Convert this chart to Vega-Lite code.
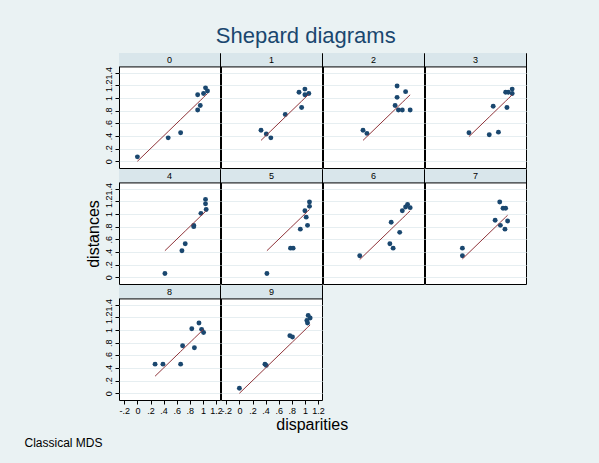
{
  "$schema": "https://vega.github.io/schema/vega-lite/v6.json",
  "background": "#eaf2f3",
  "padding": {"left": 24, "top": 24, "right": 72, "bottom": 14},
  "datasets": {
    "shepard": [
      {"panel": 0, "disparity": 0.00, "distance": 0.07},
      {"panel": 0, "disparity": 0.47, "distance": 0.37},
      {"panel": 0, "disparity": 0.66, "distance": 0.45},
      {"panel": 0, "disparity": 0.92, "distance": 1.05},
      {"panel": 0, "disparity": 0.96, "distance": 0.88},
      {"panel": 0, "disparity": 0.92, "distance": 0.81},
      {"panel": 0, "disparity": 1.01, "distance": 1.07},
      {"panel": 0, "disparity": 1.04, "distance": 1.16},
      {"panel": 0, "disparity": 1.07, "distance": 1.11},
      {"panel": 1, "disparity": 0.33, "distance": 0.49},
      {"panel": 1, "disparity": 0.41, "distance": 0.43},
      {"panel": 1, "disparity": 0.48, "distance": 0.37},
      {"panel": 1, "disparity": 0.70, "distance": 0.74},
      {"panel": 1, "disparity": 0.91, "distance": 1.09},
      {"panel": 1, "disparity": 0.95, "distance": 0.85},
      {"panel": 1, "disparity": 1.00, "distance": 1.14},
      {"panel": 1, "disparity": 1.00, "distance": 1.05},
      {"panel": 1, "disparity": 1.06, "distance": 1.07},
      {"panel": 2, "disparity": 0.33, "distance": 0.49},
      {"panel": 2, "disparity": 0.39, "distance": 0.44},
      {"panel": 2, "disparity": 0.85, "distance": 1.19},
      {"panel": 2, "disparity": 0.98, "distance": 1.10},
      {"panel": 2, "disparity": 0.85, "distance": 1.01},
      {"panel": 2, "disparity": 0.82, "distance": 0.88},
      {"panel": 2, "disparity": 0.87, "distance": 0.81},
      {"panel": 2, "disparity": 0.93, "distance": 0.81},
      {"panel": 2, "disparity": 1.05, "distance": 0.81},
      {"panel": 3, "disparity": 0.39, "distance": 0.45},
      {"panel": 3, "disparity": 0.70, "distance": 0.42},
      {"panel": 3, "disparity": 0.84, "distance": 0.46},
      {"panel": 3, "disparity": 0.76, "distance": 0.87},
      {"panel": 3, "disparity": 0.97, "distance": 0.85},
      {"panel": 3, "disparity": 0.95, "distance": 1.09},
      {"panel": 3, "disparity": 0.99, "distance": 1.09},
      {"panel": 3, "disparity": 1.05, "distance": 1.14},
      {"panel": 3, "disparity": 1.05, "distance": 1.07},
      {"panel": 4, "disparity": 0.42, "distance": 0.06},
      {"panel": 4, "disparity": 0.68, "distance": 0.42},
      {"panel": 4, "disparity": 0.73, "distance": 0.53},
      {"panel": 4, "disparity": 0.86, "distance": 0.82},
      {"panel": 4, "disparity": 0.86, "distance": 0.80},
      {"panel": 4, "disparity": 0.97, "distance": 1.01},
      {"panel": 4, "disparity": 1.04, "distance": 1.23},
      {"panel": 4, "disparity": 1.04, "distance": 1.16},
      {"panel": 4, "disparity": 1.05, "distance": 1.07},
      {"panel": 5, "disparity": 0.42, "distance": 0.06},
      {"panel": 5, "disparity": 0.78, "distance": 0.46},
      {"panel": 5, "disparity": 0.82, "distance": 0.46},
      {"panel": 5, "disparity": 0.93, "distance": 0.76},
      {"panel": 5, "disparity": 1.04, "distance": 0.82},
      {"panel": 5, "disparity": 1.02, "distance": 0.95},
      {"panel": 5, "disparity": 1.00, "distance": 1.05},
      {"panel": 5, "disparity": 1.07, "distance": 1.19},
      {"panel": 5, "disparity": 1.07, "distance": 1.12},
      {"panel": 6, "disparity": 0.28, "distance": 0.34},
      {"panel": 6, "disparity": 0.74, "distance": 0.53},
      {"panel": 6, "disparity": 0.79, "distance": 0.46},
      {"panel": 6, "disparity": 0.89, "distance": 0.71},
      {"panel": 6, "disparity": 0.76, "distance": 0.87},
      {"panel": 6, "disparity": 0.93, "distance": 1.05},
      {"panel": 6, "disparity": 0.98, "distance": 1.11},
      {"panel": 6, "disparity": 1.01, "distance": 1.15},
      {"panel": 6, "disparity": 1.05, "distance": 1.10},
      {"panel": 7, "disparity": 0.29, "distance": 0.46},
      {"panel": 7, "disparity": 0.29, "distance": 0.34},
      {"panel": 7, "disparity": 0.86, "distance": 1.19},
      {"panel": 7, "disparity": 0.91, "distance": 1.09},
      {"panel": 7, "disparity": 0.95, "distance": 1.09},
      {"panel": 7, "disparity": 0.79, "distance": 0.90},
      {"panel": 7, "disparity": 0.87, "distance": 0.82},
      {"panel": 7, "disparity": 0.98, "distance": 0.89},
      {"panel": 7, "disparity": 0.94, "distance": 0.76},
      {"panel": 8, "disparity": 0.27, "distance": 0.46},
      {"panel": 8, "disparity": 0.39, "distance": 0.46},
      {"panel": 8, "disparity": 0.66, "distance": 0.46},
      {"panel": 8, "disparity": 0.69, "distance": 0.75},
      {"panel": 8, "disparity": 0.87, "distance": 0.72},
      {"panel": 8, "disparity": 0.83, "distance": 1.02},
      {"panel": 8, "disparity": 0.94, "distance": 1.11},
      {"panel": 8, "disparity": 0.98, "distance": 1.01},
      {"panel": 8, "disparity": 1.01, "distance": 0.96},
      {"panel": 9, "disparity": 0.00, "distance": 0.08},
      {"panel": 9, "disparity": 0.39, "distance": 0.46},
      {"panel": 9, "disparity": 0.41, "distance": 0.44},
      {"panel": 9, "disparity": 0.77, "distance": 0.91},
      {"panel": 9, "disparity": 0.81, "distance": 0.89},
      {"panel": 9, "disparity": 1.03, "distance": 1.15},
      {"panel": 9, "disparity": 1.04, "distance": 1.11},
      {"panel": 9, "disparity": 1.05, "distance": 1.23},
      {"panel": 9, "disparity": 1.08, "distance": 1.19}
    ]
  },
  "title": {"text": "Shepard diagrams", "fontSize": 22, "font": "Liberation Sans", "fontWeight": "normal", "color": "#1a476f", "anchor": "middle", "offset": 5, "dx": 30},
  "config": {
    "font": "Liberation Sans",
    "view": {"stroke": "#000000", "strokeWidth": 1, "fill": "#ffffff"},
    "axis": {"labelFont": "Liberation Sans", "labelFontSize": 9, "labelColor": "#000000", "tickColor": "#000000", "tickSize": 4, "tickCount": 20, "domain": false, "labelPadding": 2, "labelOverlap": false, "labelFlush": false, "titleColor": "#000000"},
    "title": {"font": "Liberation Sans", "fontWeight": "normal", "color": "#000000"},
    "concat": {"spacing": 1}
  },
  "vconcat": [
    {
      "title": {"text": "Classical MDS", "orient": "bottom", "anchor": "start", "fontSize": 12, "offset": 5, "dx": -61},
      "vconcat": [
        {
          "title": {"text": "disparities", "orient": "bottom", "anchor": "middle", "fontSize": 16, "offset": 1, "dx": 6},
          "vconcat": [
            {
              "title": {"text": "distances", "orient": "left", "anchor": "middle", "fontSize": 16, "offset": 2},
              "columns": 4,
              "spacing": 1,
              "bounds": "flush",
              "concat": [
                {
                  "data": {"name": "shepard"}, "transform": [{"filter": "datum.panel == 0"}], "width": 101, "height": 115,
                  "layer": [
                    {"transform": [{"aggregate": [{"op": "count", "as": "n"}], "groupby": ["panel"]}], "layer": [
                      {"mark": {"type": "rect", "fill": "#d9e6eb"}, "encoding": {"y": {"datum": 1.49, "type": "quantitative", "axis": {"title": null}}, "y2": {"datum": 1.71}}},
                      {"mark": {"type": "rule", "color": "#000000", "strokeWidth": 1}, "encoding": {"y": {"datum": 1.49, "type": "quantitative", "axis": {"title": null}}}},
                      {"mark": {"type": "text", "fontSize": 9, "color": "#000000"}, "encoding": {"text": {"field": "panel", "type": "ordinal"}, "y": {"datum": 1.6, "type": "quantitative", "axis": {"title": null}}}}
                    ]},
                    {"mark": {"type": "circle", "size": 24, "color": "#1a476f", "opacity": 1}, "encoding": {
                      "x": {"field": "disparity", "type": "quantitative", "scale": {"domain": [-0.281, 1.261], "nice": false, "zero": false}, "axis": null},
                      "y": {"field": "distance", "type": "quantitative", "scale": {"domain": [-0.106, 1.71], "nice": false, "zero": false}, "axis": {"title": null, "values": [0, 0.2, 0.4, 0.6, 0.8, 1, 1.2, 1.4], "tickCount": 20, "labelExpr": "datum.value == 0 ? '0' : datum.value == 1 ? '1' : replace(format(datum.value, '.1f'), '0.', '.')", "labelAngle": 270, "labelAlign": "center", "labelBaseline": "bottom", "grid": true, "gridColor": "#e6eef1", "gridWidth": 1}}}},
                    {"mark": {"type": "line", "color": "#90353b", "strokeWidth": 1}, "encoding": {
                      "x": {"field": "disparity", "type": "quantitative", "scale": {"domain": [-0.281, 1.261], "nice": false, "zero": false}, "axis": null},
                      "y": {"field": "disparity", "type": "quantitative", "scale": {"domain": [-0.106, 1.71], "nice": false, "zero": false}, "axis": {"title": null}}}}
                  ]
                },
                {
                  "data": {"name": "shepard"}, "transform": [{"filter": "datum.panel == 1"}], "width": 101, "height": 115,
                  "layer": [
                    {"transform": [{"aggregate": [{"op": "count", "as": "n"}], "groupby": ["panel"]}], "layer": [
                      {"mark": {"type": "rect", "fill": "#d9e6eb"}, "encoding": {"y": {"datum": 1.49, "type": "quantitative", "axis": {"title": null}}, "y2": {"datum": 1.71}}},
                      {"mark": {"type": "rule", "color": "#000000", "strokeWidth": 1}, "encoding": {"y": {"datum": 1.49, "type": "quantitative", "axis": {"title": null}}}},
                      {"mark": {"type": "text", "fontSize": 9, "color": "#000000"}, "encoding": {"text": {"field": "panel", "type": "ordinal"}, "y": {"datum": 1.6, "type": "quantitative", "axis": {"title": null}}}}
                    ]},
                    {"mark": {"type": "circle", "size": 24, "color": "#1a476f", "opacity": 1}, "encoding": {
                      "x": {"field": "disparity", "type": "quantitative", "scale": {"domain": [-0.281, 1.261], "nice": false, "zero": false}, "axis": null},
                      "y": {"field": "distance", "type": "quantitative", "scale": {"domain": [-0.106, 1.71], "nice": false, "zero": false}, "axis": {"title": null, "values": [0, 0.2, 0.4, 0.6, 0.8, 1, 1.2, 1.4], "tickCount": 20, "labels": false, "ticks": false, "grid": true, "gridColor": "#e6eef1", "gridWidth": 1}}}},
                    {"mark": {"type": "line", "color": "#90353b", "strokeWidth": 1}, "encoding": {
                      "x": {"field": "disparity", "type": "quantitative", "scale": {"domain": [-0.281, 1.261], "nice": false, "zero": false}, "axis": null},
                      "y": {"field": "disparity", "type": "quantitative", "scale": {"domain": [-0.106, 1.71], "nice": false, "zero": false}, "axis": {"title": null}}}}
                  ]
                },
                {
                  "data": {"name": "shepard"}, "transform": [{"filter": "datum.panel == 2"}], "width": 101, "height": 115,
                  "layer": [
                    {"transform": [{"aggregate": [{"op": "count", "as": "n"}], "groupby": ["panel"]}], "layer": [
                      {"mark": {"type": "rect", "fill": "#d9e6eb"}, "encoding": {"y": {"datum": 1.49, "type": "quantitative", "axis": {"title": null}}, "y2": {"datum": 1.71}}},
                      {"mark": {"type": "rule", "color": "#000000", "strokeWidth": 1}, "encoding": {"y": {"datum": 1.49, "type": "quantitative", "axis": {"title": null}}}},
                      {"mark": {"type": "text", "fontSize": 9, "color": "#000000"}, "encoding": {"text": {"field": "panel", "type": "ordinal"}, "y": {"datum": 1.6, "type": "quantitative", "axis": {"title": null}}}}
                    ]},
                    {"mark": {"type": "circle", "size": 24, "color": "#1a476f", "opacity": 1}, "encoding": {
                      "x": {"field": "disparity", "type": "quantitative", "scale": {"domain": [-0.281, 1.261], "nice": false, "zero": false}, "axis": null},
                      "y": {"field": "distance", "type": "quantitative", "scale": {"domain": [-0.106, 1.71], "nice": false, "zero": false}, "axis": {"title": null, "values": [0, 0.2, 0.4, 0.6, 0.8, 1, 1.2, 1.4], "tickCount": 20, "labels": false, "ticks": false, "grid": true, "gridColor": "#e6eef1", "gridWidth": 1}}}},
                    {"mark": {"type": "line", "color": "#90353b", "strokeWidth": 1}, "encoding": {
                      "x": {"field": "disparity", "type": "quantitative", "scale": {"domain": [-0.281, 1.261], "nice": false, "zero": false}, "axis": null},
                      "y": {"field": "disparity", "type": "quantitative", "scale": {"domain": [-0.106, 1.71], "nice": false, "zero": false}, "axis": {"title": null}}}}
                  ]
                },
                {
                  "data": {"name": "shepard"}, "transform": [{"filter": "datum.panel == 3"}], "width": 101, "height": 115,
                  "layer": [
                    {"transform": [{"aggregate": [{"op": "count", "as": "n"}], "groupby": ["panel"]}], "layer": [
                      {"mark": {"type": "rect", "fill": "#d9e6eb"}, "encoding": {"y": {"datum": 1.49, "type": "quantitative", "axis": {"title": null}}, "y2": {"datum": 1.71}}},
                      {"mark": {"type": "rule", "color": "#000000", "strokeWidth": 1}, "encoding": {"y": {"datum": 1.49, "type": "quantitative", "axis": {"title": null}}}},
                      {"mark": {"type": "text", "fontSize": 9, "color": "#000000"}, "encoding": {"text": {"field": "panel", "type": "ordinal"}, "y": {"datum": 1.6, "type": "quantitative", "axis": {"title": null}}}}
                    ]},
                    {"mark": {"type": "circle", "size": 24, "color": "#1a476f", "opacity": 1}, "encoding": {
                      "x": {"field": "disparity", "type": "quantitative", "scale": {"domain": [-0.281, 1.261], "nice": false, "zero": false}, "axis": null},
                      "y": {"field": "distance", "type": "quantitative", "scale": {"domain": [-0.106, 1.71], "nice": false, "zero": false}, "axis": {"title": null, "values": [0, 0.2, 0.4, 0.6, 0.8, 1, 1.2, 1.4], "tickCount": 20, "labels": false, "ticks": false, "grid": true, "gridColor": "#e6eef1", "gridWidth": 1}}}},
                    {"mark": {"type": "line", "color": "#90353b", "strokeWidth": 1}, "encoding": {
                      "x": {"field": "disparity", "type": "quantitative", "scale": {"domain": [-0.281, 1.261], "nice": false, "zero": false}, "axis": null},
                      "y": {"field": "disparity", "type": "quantitative", "scale": {"domain": [-0.106, 1.71], "nice": false, "zero": false}, "axis": {"title": null}}}}
                  ]
                },
                {
                  "data": {"name": "shepard"}, "transform": [{"filter": "datum.panel == 4"}], "width": 101, "height": 115,
                  "layer": [
                    {"transform": [{"aggregate": [{"op": "count", "as": "n"}], "groupby": ["panel"]}], "layer": [
                      {"mark": {"type": "rect", "fill": "#d9e6eb"}, "encoding": {"y": {"datum": 1.49, "type": "quantitative", "axis": {"title": null}}, "y2": {"datum": 1.71}}},
                      {"mark": {"type": "rule", "color": "#000000", "strokeWidth": 1}, "encoding": {"y": {"datum": 1.49, "type": "quantitative", "axis": {"title": null}}}},
                      {"mark": {"type": "text", "fontSize": 9, "color": "#000000"}, "encoding": {"text": {"field": "panel", "type": "ordinal"}, "y": {"datum": 1.6, "type": "quantitative", "axis": {"title": null}}}}
                    ]},
                    {"mark": {"type": "circle", "size": 24, "color": "#1a476f", "opacity": 1}, "encoding": {
                      "x": {"field": "disparity", "type": "quantitative", "scale": {"domain": [-0.281, 1.261], "nice": false, "zero": false}, "axis": null},
                      "y": {"field": "distance", "type": "quantitative", "scale": {"domain": [-0.106, 1.71], "nice": false, "zero": false}, "axis": {"title": null, "values": [0, 0.2, 0.4, 0.6, 0.8, 1, 1.2, 1.4], "tickCount": 20, "labelExpr": "datum.value == 0 ? '0' : datum.value == 1 ? '1' : replace(format(datum.value, '.1f'), '0.', '.')", "labelAngle": 270, "labelAlign": "center", "labelBaseline": "bottom", "grid": true, "gridColor": "#e6eef1", "gridWidth": 1}}}},
                    {"mark": {"type": "line", "color": "#90353b", "strokeWidth": 1}, "encoding": {
                      "x": {"field": "disparity", "type": "quantitative", "scale": {"domain": [-0.281, 1.261], "nice": false, "zero": false}, "axis": null},
                      "y": {"field": "disparity", "type": "quantitative", "scale": {"domain": [-0.106, 1.71], "nice": false, "zero": false}, "axis": {"title": null}}}}
                  ]
                },
                {
                  "data": {"name": "shepard"}, "transform": [{"filter": "datum.panel == 5"}], "width": 101, "height": 115,
                  "layer": [
                    {"transform": [{"aggregate": [{"op": "count", "as": "n"}], "groupby": ["panel"]}], "layer": [
                      {"mark": {"type": "rect", "fill": "#d9e6eb"}, "encoding": {"y": {"datum": 1.49, "type": "quantitative", "axis": {"title": null}}, "y2": {"datum": 1.71}}},
                      {"mark": {"type": "rule", "color": "#000000", "strokeWidth": 1}, "encoding": {"y": {"datum": 1.49, "type": "quantitative", "axis": {"title": null}}}},
                      {"mark": {"type": "text", "fontSize": 9, "color": "#000000"}, "encoding": {"text": {"field": "panel", "type": "ordinal"}, "y": {"datum": 1.6, "type": "quantitative", "axis": {"title": null}}}}
                    ]},
                    {"mark": {"type": "circle", "size": 24, "color": "#1a476f", "opacity": 1}, "encoding": {
                      "x": {"field": "disparity", "type": "quantitative", "scale": {"domain": [-0.281, 1.261], "nice": false, "zero": false}, "axis": null},
                      "y": {"field": "distance", "type": "quantitative", "scale": {"domain": [-0.106, 1.71], "nice": false, "zero": false}, "axis": {"title": null, "values": [0, 0.2, 0.4, 0.6, 0.8, 1, 1.2, 1.4], "tickCount": 20, "labels": false, "ticks": false, "grid": true, "gridColor": "#e6eef1", "gridWidth": 1}}}},
                    {"mark": {"type": "line", "color": "#90353b", "strokeWidth": 1}, "encoding": {
                      "x": {"field": "disparity", "type": "quantitative", "scale": {"domain": [-0.281, 1.261], "nice": false, "zero": false}, "axis": null},
                      "y": {"field": "disparity", "type": "quantitative", "scale": {"domain": [-0.106, 1.71], "nice": false, "zero": false}, "axis": {"title": null}}}}
                  ]
                },
                {
                  "data": {"name": "shepard"}, "transform": [{"filter": "datum.panel == 6"}], "width": 101, "height": 115,
                  "layer": [
                    {"transform": [{"aggregate": [{"op": "count", "as": "n"}], "groupby": ["panel"]}], "layer": [
                      {"mark": {"type": "rect", "fill": "#d9e6eb"}, "encoding": {"y": {"datum": 1.49, "type": "quantitative", "axis": {"title": null}}, "y2": {"datum": 1.71}}},
                      {"mark": {"type": "rule", "color": "#000000", "strokeWidth": 1}, "encoding": {"y": {"datum": 1.49, "type": "quantitative", "axis": {"title": null}}}},
                      {"mark": {"type": "text", "fontSize": 9, "color": "#000000"}, "encoding": {"text": {"field": "panel", "type": "ordinal"}, "y": {"datum": 1.6, "type": "quantitative", "axis": {"title": null}}}}
                    ]},
                    {"mark": {"type": "circle", "size": 24, "color": "#1a476f", "opacity": 1}, "encoding": {
                      "x": {"field": "disparity", "type": "quantitative", "scale": {"domain": [-0.281, 1.261], "nice": false, "zero": false}, "axis": null},
                      "y": {"field": "distance", "type": "quantitative", "scale": {"domain": [-0.106, 1.71], "nice": false, "zero": false}, "axis": {"title": null, "values": [0, 0.2, 0.4, 0.6, 0.8, 1, 1.2, 1.4], "tickCount": 20, "labels": false, "ticks": false, "grid": true, "gridColor": "#e6eef1", "gridWidth": 1}}}},
                    {"mark": {"type": "line", "color": "#90353b", "strokeWidth": 1}, "encoding": {
                      "x": {"field": "disparity", "type": "quantitative", "scale": {"domain": [-0.281, 1.261], "nice": false, "zero": false}, "axis": null},
                      "y": {"field": "disparity", "type": "quantitative", "scale": {"domain": [-0.106, 1.71], "nice": false, "zero": false}, "axis": {"title": null}}}}
                  ]
                },
                {
                  "data": {"name": "shepard"}, "transform": [{"filter": "datum.panel == 7"}], "width": 101, "height": 115,
                  "layer": [
                    {"transform": [{"aggregate": [{"op": "count", "as": "n"}], "groupby": ["panel"]}], "layer": [
                      {"mark": {"type": "rect", "fill": "#d9e6eb"}, "encoding": {"y": {"datum": 1.49, "type": "quantitative", "axis": {"title": null}}, "y2": {"datum": 1.71}}},
                      {"mark": {"type": "rule", "color": "#000000", "strokeWidth": 1}, "encoding": {"y": {"datum": 1.49, "type": "quantitative", "axis": {"title": null}}}},
                      {"mark": {"type": "text", "fontSize": 9, "color": "#000000"}, "encoding": {"text": {"field": "panel", "type": "ordinal"}, "y": {"datum": 1.6, "type": "quantitative", "axis": {"title": null}}}}
                    ]},
                    {"mark": {"type": "circle", "size": 24, "color": "#1a476f", "opacity": 1}, "encoding": {
                      "x": {"field": "disparity", "type": "quantitative", "scale": {"domain": [-0.281, 1.261], "nice": false, "zero": false}, "axis": null},
                      "y": {"field": "distance", "type": "quantitative", "scale": {"domain": [-0.106, 1.71], "nice": false, "zero": false}, "axis": {"title": null, "values": [0, 0.2, 0.4, 0.6, 0.8, 1, 1.2, 1.4], "tickCount": 20, "labels": false, "ticks": false, "grid": true, "gridColor": "#e6eef1", "gridWidth": 1}}}},
                    {"mark": {"type": "line", "color": "#90353b", "strokeWidth": 1}, "encoding": {
                      "x": {"field": "disparity", "type": "quantitative", "scale": {"domain": [-0.281, 1.261], "nice": false, "zero": false}, "axis": null},
                      "y": {"field": "disparity", "type": "quantitative", "scale": {"domain": [-0.106, 1.71], "nice": false, "zero": false}, "axis": {"title": null}}}}
                  ]
                },
                {
                  "data": {"name": "shepard"}, "transform": [{"filter": "datum.panel == 8"}], "width": 101, "height": 115,
                  "layer": [
                    {"transform": [{"aggregate": [{"op": "count", "as": "n"}], "groupby": ["panel"]}], "layer": [
                      {"mark": {"type": "rect", "fill": "#d9e6eb"}, "encoding": {"y": {"datum": 1.49, "type": "quantitative", "axis": {"title": null}}, "y2": {"datum": 1.71}}},
                      {"mark": {"type": "rule", "color": "#000000", "strokeWidth": 1}, "encoding": {"y": {"datum": 1.49, "type": "quantitative", "axis": {"title": null}}}},
                      {"mark": {"type": "text", "fontSize": 9, "color": "#000000"}, "encoding": {"text": {"field": "panel", "type": "ordinal"}, "y": {"datum": 1.6, "type": "quantitative", "axis": {"title": null}}}}
                    ]},
                    {"mark": {"type": "circle", "size": 24, "color": "#1a476f", "opacity": 1}, "encoding": {
                      "x": {"field": "disparity", "type": "quantitative", "scale": {"domain": [-0.281, 1.261], "nice": false, "zero": false}, "axis": {"title": null, "values": [-0.2, 0, 0.2, 0.4, 0.6, 0.8, 1, 1.2], "tickCount": 20, "labelExpr": "datum.value < 0 ? '-' + replace(format(-datum.value, '.1f'), '0.', '.') : datum.value == 0 ? '0' : datum.value == 1 ? '1' : replace(format(datum.value, '.1f'), '0.', '.')", "labelAngle": 0, "grid": false}},
                      "y": {"field": "distance", "type": "quantitative", "scale": {"domain": [-0.106, 1.71], "nice": false, "zero": false}, "axis": {"title": null, "values": [0, 0.2, 0.4, 0.6, 0.8, 1, 1.2, 1.4], "tickCount": 20, "labelExpr": "datum.value == 0 ? '0' : datum.value == 1 ? '1' : replace(format(datum.value, '.1f'), '0.', '.')", "labelAngle": 270, "labelAlign": "center", "labelBaseline": "bottom", "grid": true, "gridColor": "#e6eef1", "gridWidth": 1}}}},
                    {"mark": {"type": "line", "color": "#90353b", "strokeWidth": 1}, "encoding": {
                      "x": {"field": "disparity", "type": "quantitative", "scale": {"domain": [-0.281, 1.261], "nice": false, "zero": false}, "axis": {"title": null}},
                      "y": {"field": "disparity", "type": "quantitative", "scale": {"domain": [-0.106, 1.71], "nice": false, "zero": false}, "axis": {"title": null}}}}
                  ]
                },
                {
                  "data": {"name": "shepard"}, "transform": [{"filter": "datum.panel == 9"}], "width": 101, "height": 115,
                  "layer": [
                    {"transform": [{"aggregate": [{"op": "count", "as": "n"}], "groupby": ["panel"]}], "layer": [
                      {"mark": {"type": "rect", "fill": "#d9e6eb"}, "encoding": {"y": {"datum": 1.49, "type": "quantitative", "axis": {"title": null}}, "y2": {"datum": 1.71}}},
                      {"mark": {"type": "rule", "color": "#000000", "strokeWidth": 1}, "encoding": {"y": {"datum": 1.49, "type": "quantitative", "axis": {"title": null}}}},
                      {"mark": {"type": "text", "fontSize": 9, "color": "#000000"}, "encoding": {"text": {"field": "panel", "type": "ordinal"}, "y": {"datum": 1.6, "type": "quantitative", "axis": {"title": null}}}}
                    ]},
                    {"mark": {"type": "circle", "size": 24, "color": "#1a476f", "opacity": 1}, "encoding": {
                      "x": {"field": "disparity", "type": "quantitative", "scale": {"domain": [-0.281, 1.261], "nice": false, "zero": false}, "axis": {"title": null, "values": [-0.2, 0, 0.2, 0.4, 0.6, 0.8, 1, 1.2], "tickCount": 20, "labelExpr": "datum.value < 0 ? '-' + replace(format(-datum.value, '.1f'), '0.', '.') : datum.value == 0 ? '0' : datum.value == 1 ? '1' : replace(format(datum.value, '.1f'), '0.', '.')", "labelAngle": 0, "grid": false}},
                      "y": {"field": "distance", "type": "quantitative", "scale": {"domain": [-0.106, 1.71], "nice": false, "zero": false}, "axis": {"title": null, "values": [0, 0.2, 0.4, 0.6, 0.8, 1, 1.2, 1.4], "tickCount": 20, "labels": false, "ticks": false, "grid": true, "gridColor": "#e6eef1", "gridWidth": 1}}}},
                    {"mark": {"type": "line", "color": "#90353b", "strokeWidth": 1}, "encoding": {
                      "x": {"field": "disparity", "type": "quantitative", "scale": {"domain": [-0.281, 1.261], "nice": false, "zero": false}, "axis": {"title": null}},
                      "y": {"field": "disparity", "type": "quantitative", "scale": {"domain": [-0.106, 1.71], "nice": false, "zero": false}, "axis": {"title": null}}}}
                  ]
                }
              ]
            }
          ]
        }
      ]
    }
  ]
}
